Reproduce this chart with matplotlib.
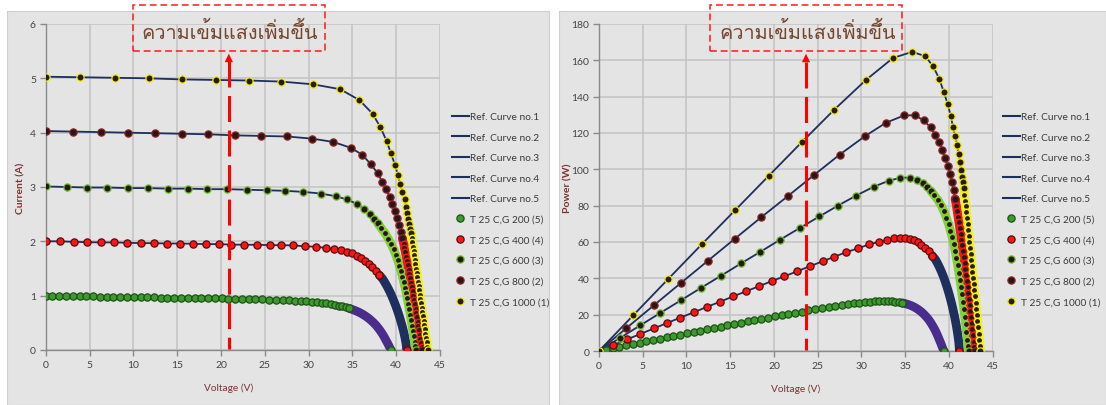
import numpy as np
import matplotlib
matplotlib.use("Agg")
import matplotlib.pyplot as plt
from matplotlib import font_manager
from matplotlib.lines import Line2D
from matplotlib.patches import Rectangle, Polygon
from matplotlib.transforms import blended_transform_factory

# ---------------- measured I-V points (T = 25 C) ----------------
V_200 = [0, 0.77, 1.55, 2.32, 3.09, 3.86, 4.64, 5.41, 6.18, 6.95,
         7.73, 8.5, 9.27, 10.04, 10.82, 11.59, 12.36, 13.13, 13.9, 14.68,
         15.45, 16.22, 16.99, 17.77, 18.54, 19.31, 20.08, 20.86, 21.63, 22.4,
         23.17, 23.94, 24.72, 25.49, 26.26, 27.03, 27.8, 28.5, 29.15, 29.76,
         30.36, 30.93, 31.5, 32.04, 32.53, 32.98, 33.44, 33.86, 34.28, 34.66,
         35.02, 35.4, 35.75, 36.1, 36.45, 36.8, 37.1, 37.4, 37.7, 37.95,
         38.2, 38.45, 38.65, 38.85, 39.05, 39.22, 39.4]
I_200 = [1.0, 0.998, 0.996, 0.994, 0.992, 0.99, 0.988, 0.986, 0.984, 0.982,
         0.98, 0.978, 0.976, 0.974, 0.972, 0.97, 0.968, 0.966, 0.964, 0.962,
         0.96, 0.958, 0.956, 0.954, 0.952, 0.95, 0.948, 0.946, 0.943, 0.94,
         0.937, 0.934, 0.931, 0.928, 0.924, 0.92, 0.915, 0.91, 0.904, 0.897,
         0.889, 0.88, 0.87, 0.858, 0.846, 0.833, 0.818, 0.802, 0.784, 0.765,
         0.744, 0.72, 0.695, 0.665, 0.63, 0.59, 0.55, 0.505, 0.455, 0.405,
         0.35, 0.29, 0.235, 0.175, 0.115, 0.06, 0.0]

V_400 = [0, 1.63, 3.19, 4.74, 6.26, 7.78, 9.29, 10.82, 12.33, 13.85,
         15.33, 16.81, 18.29, 19.74, 21.2, 22.66, 24.1, 25.55, 26.9, 28.28,
         29.57, 30.87, 31.96, 32.92, 33.75, 34.43, 34.97, 35.5, 36.0, 36.45,
         36.86, 37.28, 37.7, 38.08, 38.45, 38.68, 38.86, 39.03, 39.19, 39.34,
         39.48, 39.61, 39.74, 39.86, 39.98, 40.09, 40.2, 40.3, 40.4, 40.49,
         40.58, 40.67, 40.75, 40.83, 40.9, 40.97, 41.03, 41.09, 41.14, 41.17,
         41.2]
I_400 = [2.0, 2.0, 1.99, 1.985, 1.98, 1.98, 1.974, 1.967, 1.967, 1.96,
         1.96, 1.955, 1.949, 1.949, 1.94, 1.937, 1.937, 1.93, 1.93, 1.924,
         1.91, 1.9, 1.88, 1.857, 1.84, 1.81, 1.78, 1.73, 1.69, 1.64,
         1.58, 1.52, 1.46, 1.38, 1.31, 1.25, 1.2, 1.15, 1.1, 1.05,
         1.0, 0.95, 0.9, 0.85, 0.8, 0.75, 0.7, 0.65, 0.6, 0.55,
         0.5, 0.45, 0.4, 0.35, 0.3, 0.25, 0.2, 0.15, 0.1, 0.05,
         0.0]

V_600 = [0, 2.4, 4.7, 7.0, 9.34, 11.62, 13.95, 16.22, 18.45, 20.7,
         22.97, 25.2, 27.33, 29.4, 31.38, 33.1, 34.4, 35.5, 36.3, 37.0,
         37.5, 37.9, 38.3, 38.72, 39.1, 39.42, 39.7, 39.95, 40.17, 40.37,
         40.55, 40.71, 40.86, 41.0, 41.13, 41.26, 41.38, 41.49, 41.6, 41.7,
         41.8, 41.9, 42.0, 42.1, 42.18, 42.25]
I_600 = [3.01, 3.0, 2.99, 2.99, 2.98, 2.98, 2.97, 2.97, 2.96, 2.96,
         2.95, 2.94, 2.93, 2.91, 2.88, 2.83, 2.77, 2.69, 2.6, 2.5,
         2.41, 2.33, 2.24, 2.15, 2.05, 1.95, 1.85, 1.75, 1.65, 1.55,
         1.45, 1.35, 1.25, 1.15, 1.05, 0.95, 0.85, 0.75, 0.65, 0.55,
         0.45, 0.35, 0.25, 0.15, 0.07, 0.0]

V_800 = [0, 3.12, 6.3, 9.34, 12.45, 15.5, 18.55, 21.6, 24.6, 27.5,
         30.4, 32.8, 34.85, 36.15, 37.1, 37.9, 38.4, 38.86, 39.24, 39.54,
         39.85, 40.11, 40.34, 40.53, 40.7, 40.86, 40.94, 41.04, 41.14, 41.23,
         41.33, 41.42, 41.51, 41.6, 41.7, 41.79, 41.87, 41.96, 42.05, 42.13,
         42.21, 42.3, 42.38, 42.46, 42.54, 42.61, 42.69, 42.77, 42.84, 42.9,
         42.95]
I_800 = [4.03, 4.02, 4.01, 4.0, 3.99, 3.98, 3.97, 3.95, 3.94, 3.93,
         3.89, 3.83, 3.72, 3.59, 3.42, 3.25, 3.1, 2.96, 2.82, 2.69,
         2.56, 2.43, 2.3, 2.18, 2.06, 1.95, 1.88, 1.8, 1.72, 1.64,
         1.56, 1.48, 1.4, 1.32, 1.24, 1.16, 1.08, 1.0, 0.92, 0.84,
         0.76, 0.68, 0.6, 0.52, 0.44, 0.36, 0.28, 0.2, 0.12, 0.05,
         0.0]

V_1000 = [0, 3.94, 7.86, 11.77, 15.56, 19.4, 23.15, 26.9, 30.5, 33.6,
          35.8, 37.3, 38.2, 38.9, 39.4, 39.86, 40.2, 40.46, 40.7, 40.95,
          41.1, 41.26, 41.37, 41.5, 41.6, 41.7, 41.76, 41.84, 41.91, 41.98,
          42.05, 42.12, 42.19, 42.27, 42.34, 42.41, 42.48, 42.55, 42.62, 42.69,
          42.76, 42.83, 42.91, 42.98, 43.05, 43.12, 43.19, 43.26, 43.33, 43.4,
          43.48, 43.55, 43.6]
I_1000 = [5.03, 5.02, 5.01, 5.0, 4.98, 4.97, 4.96, 4.94, 4.89, 4.80,
          4.60, 4.35, 4.10, 3.85, 3.62, 3.41, 3.22, 3.05, 2.91, 2.77,
          2.64, 2.52, 2.41, 2.31, 2.23, 2.15, 2.06, 1.98, 1.9, 1.82,
          1.74, 1.66, 1.58, 1.5, 1.42, 1.34, 1.26, 1.18, 1.1, 1.02,
          0.94, 0.86, 0.78, 0.7, 0.62, 0.54, 0.46, 0.38, 0.3, 0.22,
          0.14, 0.06, 0.0]

ref_labels = ["Ref. Curve no.1", "Ref. Curve no.2", "Ref. Curve no.3",
              "Ref. Curve no.4", "Ref. Curve no.5"]
series_labels = ["T 25 C,G 200 (5)", "T 25 C,G 400 (4)", "T 25 C,G 600 (3)",
                 "T 25 C,G 800 (2)", "T 25 C,G 1000 (1)"]
voltage_ticks = [0, 5, 10, 15, 20, 25, 30, 35, 40, 45]
current_ticks = [0, 1, 2, 3, 4, 5, 6]
power_ticks = [0, 20, 40, 60, 80, 100, 120, 140, 160, 180]
note_text = "ความเข้มแสงเพิ่มขึ้น"
arrow_voltage_iv = 20.9
arrow_voltage_pv = 23.66

# ---------------- styling ----------------
W, H = 1106, 406
NAVY = "#1f2f5c"
PANEL = "#e4e4e4"
GRID = "#c3c3c3"
SPINE = "#8a8a8a"
TICK_TXT = "#444444"
LABEL_TXT = "#7c3434"

# (V, I, face, edge, band colour, current below which the dense tail starts, dark specks in tail)
series = [
    (V_200, I_200, "#3e9a30", "#1c5214", "#4a2c8c", 0.745, False),
    (V_400, I_400, "#ff1414", "#5a0c0c", "#1e2f5e", 1.32, False),
    (V_600, I_600, "#2a1610", "#6cc02c", "#84d03a", 2.25, True),
    (V_800, I_800, "#2a1616", "#8c2424", "#ec1a1a", 1.96, True),
    (V_1000, I_1000, "#2a1a08", "#eeee00", "#f2f21e", 2.07, True),
]

BASE_FONT = "Lato"
plt.rcParams["font.family"] = [BASE_FONT, "DejaVu Sans"]

# Loma keeps Thai tone marks above the upper vowels without text shaping
installed = {f.name for f in font_manager.fontManager.ttflist}
THAI = next((n for n in ("Loma", "Noto Sans Thai") if n in installed), "DejaVu Sans")


def fx(px):
    return px / W


def fy(py):
    return 1 - py / H


fig = plt.figure(figsize=(W / 100, H / 100), dpi=100)
fig.patch.set_facecolor("white")

for x0, x1 in [(7, 549), (559, 1106)]:
    fig.add_artist(Rectangle((fx(x0), 0), fx(x1) - fx(x0), fy(12),
                             transform=fig.transFigure, facecolor=PANEL,
                             edgecolor="#cfcfcf", lw=0.8, zorder=0))

axL = fig.add_axes([fx(45.7), fy(351), fx(440) - fx(45.7), fy(25) - fy(351)])
axR = fig.add_axes([fx(599), fy(352), fx(992.7) - fx(599), fy(25) - fy(352)])


def style_axes(ax, yticks, ylabel, ylabel_x, xlabel_x):
    ax.set_facecolor(PANEL)
    ax.set_xlim(0, 45)
    ax.set_ylim(yticks[0], yticks[-1])
    ax.set_xticks(voltage_ticks)
    ax.set_yticks(yticks)
    ax.grid(True, color=GRID, lw=1.1)
    ax.set_axisbelow(True)
    for s in ("top", "right"):
        ax.spines[s].set_visible(False)
    for s in ("left", "bottom"):
        ax.spines[s].set_color(SPINE)
        ax.spines[s].set_linewidth(1.0)
    ax.tick_params(direction="out", length=4, width=1.0, color=SPINE,
                   labelsize=7.5, labelcolor=TICK_TXT, pad=3)
    ax.set_xlabel("Voltage (V)", fontsize=7.3, color=LABEL_TXT)
    ax.xaxis.set_label_coords(xlabel_x, -0.114)
    ax.xaxis.label.set_va("center")
    ax.set_ylabel(ylabel, fontsize=7.5, color=LABEL_TXT, fontweight="bold")
    ax.yaxis.set_label_coords(ylabel_x, 0.5)
    ax.yaxis.label.set_va("center")


def draw_curves(ax, power):
    for V, I, face, edge, band, band_from, specks in series:
        V = np.asarray(V, float)
        I = np.asarray(I, float)
        Y = V * I if power else I
        # reference curve
        ax.plot(V, Y, color=NAVY, lw=1.3, zorder=2, solid_capstyle="round")
        tail = I < band_from
        first_tail = int(np.argmax(tail))
        # dense tail of the measurement shows as a solid coloured band
        ax.plot(V[first_tail - 1:], Y[first_tail - 1:], color=band, lw=6.3,
                solid_capstyle="round", zorder=3)
        ax.plot(V[~tail], Y[~tail], ls="none", marker="o", ms=5.2, mfc=face,
                mec=edge, mew=0.9, zorder=4)
        if specks:
            ax.plot(V[tail][:-1], Y[tail][:-1], ls="none", marker="o", ms=4.6,
                    mfc=face, mec=band, mew=1.1, zorder=4)
        ax.plot(V[-1:], Y[-1:], ls="none", marker="o", ms=5.2, mfc=face,
                mec=edge, mew=0.9, zorder=5)


def draw_arrow(ax, xv):
    tr = blended_transform_factory(ax.transData, ax.transAxes)
    ax.plot([xv, xv], [0.885, 0.004], transform=tr, color="#ff0000", lw=2.2,
            dashes=(8.5, 2.8), dash_capstyle="butt", clip_on=False, zorder=6)
    ax.add_patch(Polygon([[xv - 0.47, 0.883], [xv + 0.47, 0.883], [xv, 0.909]],
                         closed=True, transform=tr, facecolor="#ff0000",
                         edgecolor="none", clip_on=False, zorder=6))


def draw_note(x0, x1):
    fig.add_artist(Rectangle((fx(x0), fy(52.3)), fx(x1) - fx(x0), fy(5.5) - fy(52.3),
                             transform=fig.transFigure, facecolor="none",
                             edgecolor="#ff1a1a", lw=1.1, ls=(0, (4.5, 2.5)),
                             zorder=7))
    fig.text(fx((x0 + x1) / 2 + 1), fy(32.5), note_text, ha="center", va="center",
             fontsize=14.3, color="#76452f", family=[THAI, "DejaVu Sans"],
             zorder=8)


def draw_legend(x_left):
    handles = [Line2D([], [], color=NAVY, lw=1.5) for _ in ref_labels]
    handles += [Line2D([], [], ls="none", marker="o", ms=5.2, mfc=s[2],
                       mec=s[3], mew=0.9) for s in series]
    fig.legend(handles, ref_labels + series_labels, loc="upper left",
               bbox_to_anchor=(fx(x_left), fy(113)), frameon=False,
               fontsize=7.3, handlelength=1.7, handletextpad=0.15,
               labelspacing=1.13, borderpad=0, borderaxespad=0,
               labelcolor="#3a3a3a")


style_axes(axL, current_ticks, "Current (A)", -0.063, 0.464)
style_axes(axR, power_ticks, "Power (W)", -0.079, 0.5)
draw_curves(axL, power=False)
draw_curves(axR, power=True)
draw_arrow(axL, arrow_voltage_iv)
draw_arrow(axR, arrow_voltage_pv)
draw_note(133.3, 324.5)
draw_note(710, 902.3)
draw_legend(451.5)
draw_legend(1002.5)

fig.savefig("out.png", dpi=100, facecolor="white")
